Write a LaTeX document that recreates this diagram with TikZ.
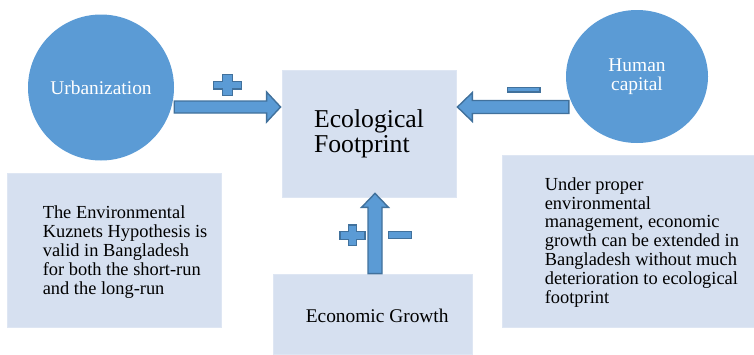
\documentclass[tikz,border=0pt]{standalone}
\usepackage{fontspec}
\setmainfont{Liberation Serif}
\usetikzlibrary{shapes.geometric,calc}
\definecolor{ofblue}{HTML}{5B9BD5}
\definecolor{ofedge}{HTML}{41719C}
\definecolor{panelfill}{HTML}{D6E0F0}
\definecolor{paneledge}{HTML}{DEE6F3}

% plus sign: centre x, centre y, half width, half height, half bar widths
\newcommand\plusmark[6]{%
  \draw[sign] ({#1-#5},{#2-#4}) -- ({#1+#5},{#2-#4}) -- ({#1+#5},{#2-#6})
    -- ({#1+#3},{#2-#6}) -- ({#1+#3},{#2+#6}) -- ({#1+#5},{#2+#6})
    -- ({#1+#5},{#2+#4}) -- ({#1-#5},{#2+#4}) -- ({#1-#5},{#2+#6})
    -- ({#1-#3},{#2+#6}) -- ({#1-#3},{#2-#6}) -- ({#1-#5},{#2-#6}) -- cycle;}
% minus sign: two opposite corners
\newcommand\minusmark[4]{\draw[sign] (#1,#2) rectangle (#3,#4);}

\begin{document}
\begin{tikzpicture}[x=1pt,y=-1pt,
  bubble/.style={fill=ofblue,draw=none,text=white,inner sep=0pt,align=center,
    font=\fontsize{19.4}{19}\selectfont},
  panel/.style={fill=panelfill,draw=paneledge,line width=0.8pt,inner sep=0pt},
  bodytext/.style={inner sep=0pt,align=left,font=\fontsize{18.4}{18.9}\selectfont},
  blockarrow/.style={fill=ofblue,draw=ofedge,line width=1.4pt,line join=miter},
  sign/.style={fill=ofblue,draw=ofedge,line width=1.4pt}]

\useasboundingbox (0,0) rectangle (754,354);

% central box
\node[panel,minimum width=174pt,minimum height=127pt,align=left,
  font=\fontsize{25.7}{25}\selectfont] (eco) at (369,133.5) {Ecological\\Footprint};

% explanation panels
\node[panel,minimum width=214pt,minimum height=154pt] (kuz) at (114,250) {};
\node[panel,minimum width=252pt,minimum height=172pt] (mgmt) at (628,241) {};
\node[panel,minimum width=199pt,minimum height=80pt] (eg) at (372.5,314) {};

\node[bodytext,anchor=west] (kuztxt) at ($(kuz.west)+(36,1.8)$)
  {The Environmental\\Kuznets Hypothesis is\\valid in Bangladesh\\for both the short-run\\and the long-run};
\node[bodytext,anchor=west] (mgmttxt) at ($(mgmt.west)+(43,1.4)$)
  {Under proper\\environmental\\management, economic\\growth can be extended in\\Bangladesh without much\\deterioration to ecological\\footprint};
\node[inner sep=0pt,anchor=base west,font=\fontsize{19.4}{19}\selectfont] (egtxt)
  at ($(eg.west)+(33,8)$) {Economic Growth};

% drivers
\node[bubble,circle,minimum size=146pt] (urb) at (101,87.5) {Urbanization};
\node[bubble,ellipse,minimum width=142pt,minimum height=133pt] (hum) at (637,76.5) {Human\\capital};

% block arrows
\coordinate (rA) at ($(urb.east)+(0,19.5)$);
\coordinate (rB) at ($(eco.west |- rA)+(-1,0)$);
\draw[blockarrow] let \p1=(rA), \p2=(rB) in
  (\x1,\y1+6pt) -- (\x2-14pt,\y1+6pt) -- (\x2-14pt,\y1+15pt) -- (\x2,\y1)
  -- (\x2-14pt,\y1-15pt) -- (\x2-14pt,\y1-6pt) -- (\x1,\y1-6pt) -- cycle;

\coordinate (lA) at ($(hum.west)+(3,30.5)$);
\coordinate (lB) at ($(eco.east |- lA)+(1,0)$);
\draw[blockarrow] let \p1=(lA), \p2=(lB) in
  (\x1,\y1+6.5pt) -- (\x2+15pt,\y1+6.5pt) -- (\x2+15pt,\y1+14.5pt) -- (\x2,\y1)
  -- (\x2+15pt,\y1-14.5pt) -- (\x2+15pt,\y1-6.5pt) -- (\x1,\y1-6.5pt) -- cycle;

\coordinate (uA) at ($(eg.north)+(2.5,0)$);
\coordinate (uB) at ($(eco.south -| uA)+(0,-4)$);
\draw[blockarrow] let \p1=(uA), \p2=(uB) in
  (\x1-7pt,\y1) -- (\x1-7pt,\y2-14pt) -- (\x1-13.5pt,\y2-14pt) -- (\x1,\y2)
  -- (\x1+13.5pt,\y2-14pt) -- (\x1+7pt,\y2-14pt) -- (\x1+7pt,\y1) -- cycle;

% signs
\plusmark{227.5}{85}{13.8}{10.3}{5}{3.8}
\minusmark{507.2}{87.2}{539.8}{92}
\plusmark{352.5}{235.2}{12.6}{10.2}{4}{4}
\minusmark{388.4}{231.7}{411.6}{238.6}

\end{tikzpicture}
\end{document}
